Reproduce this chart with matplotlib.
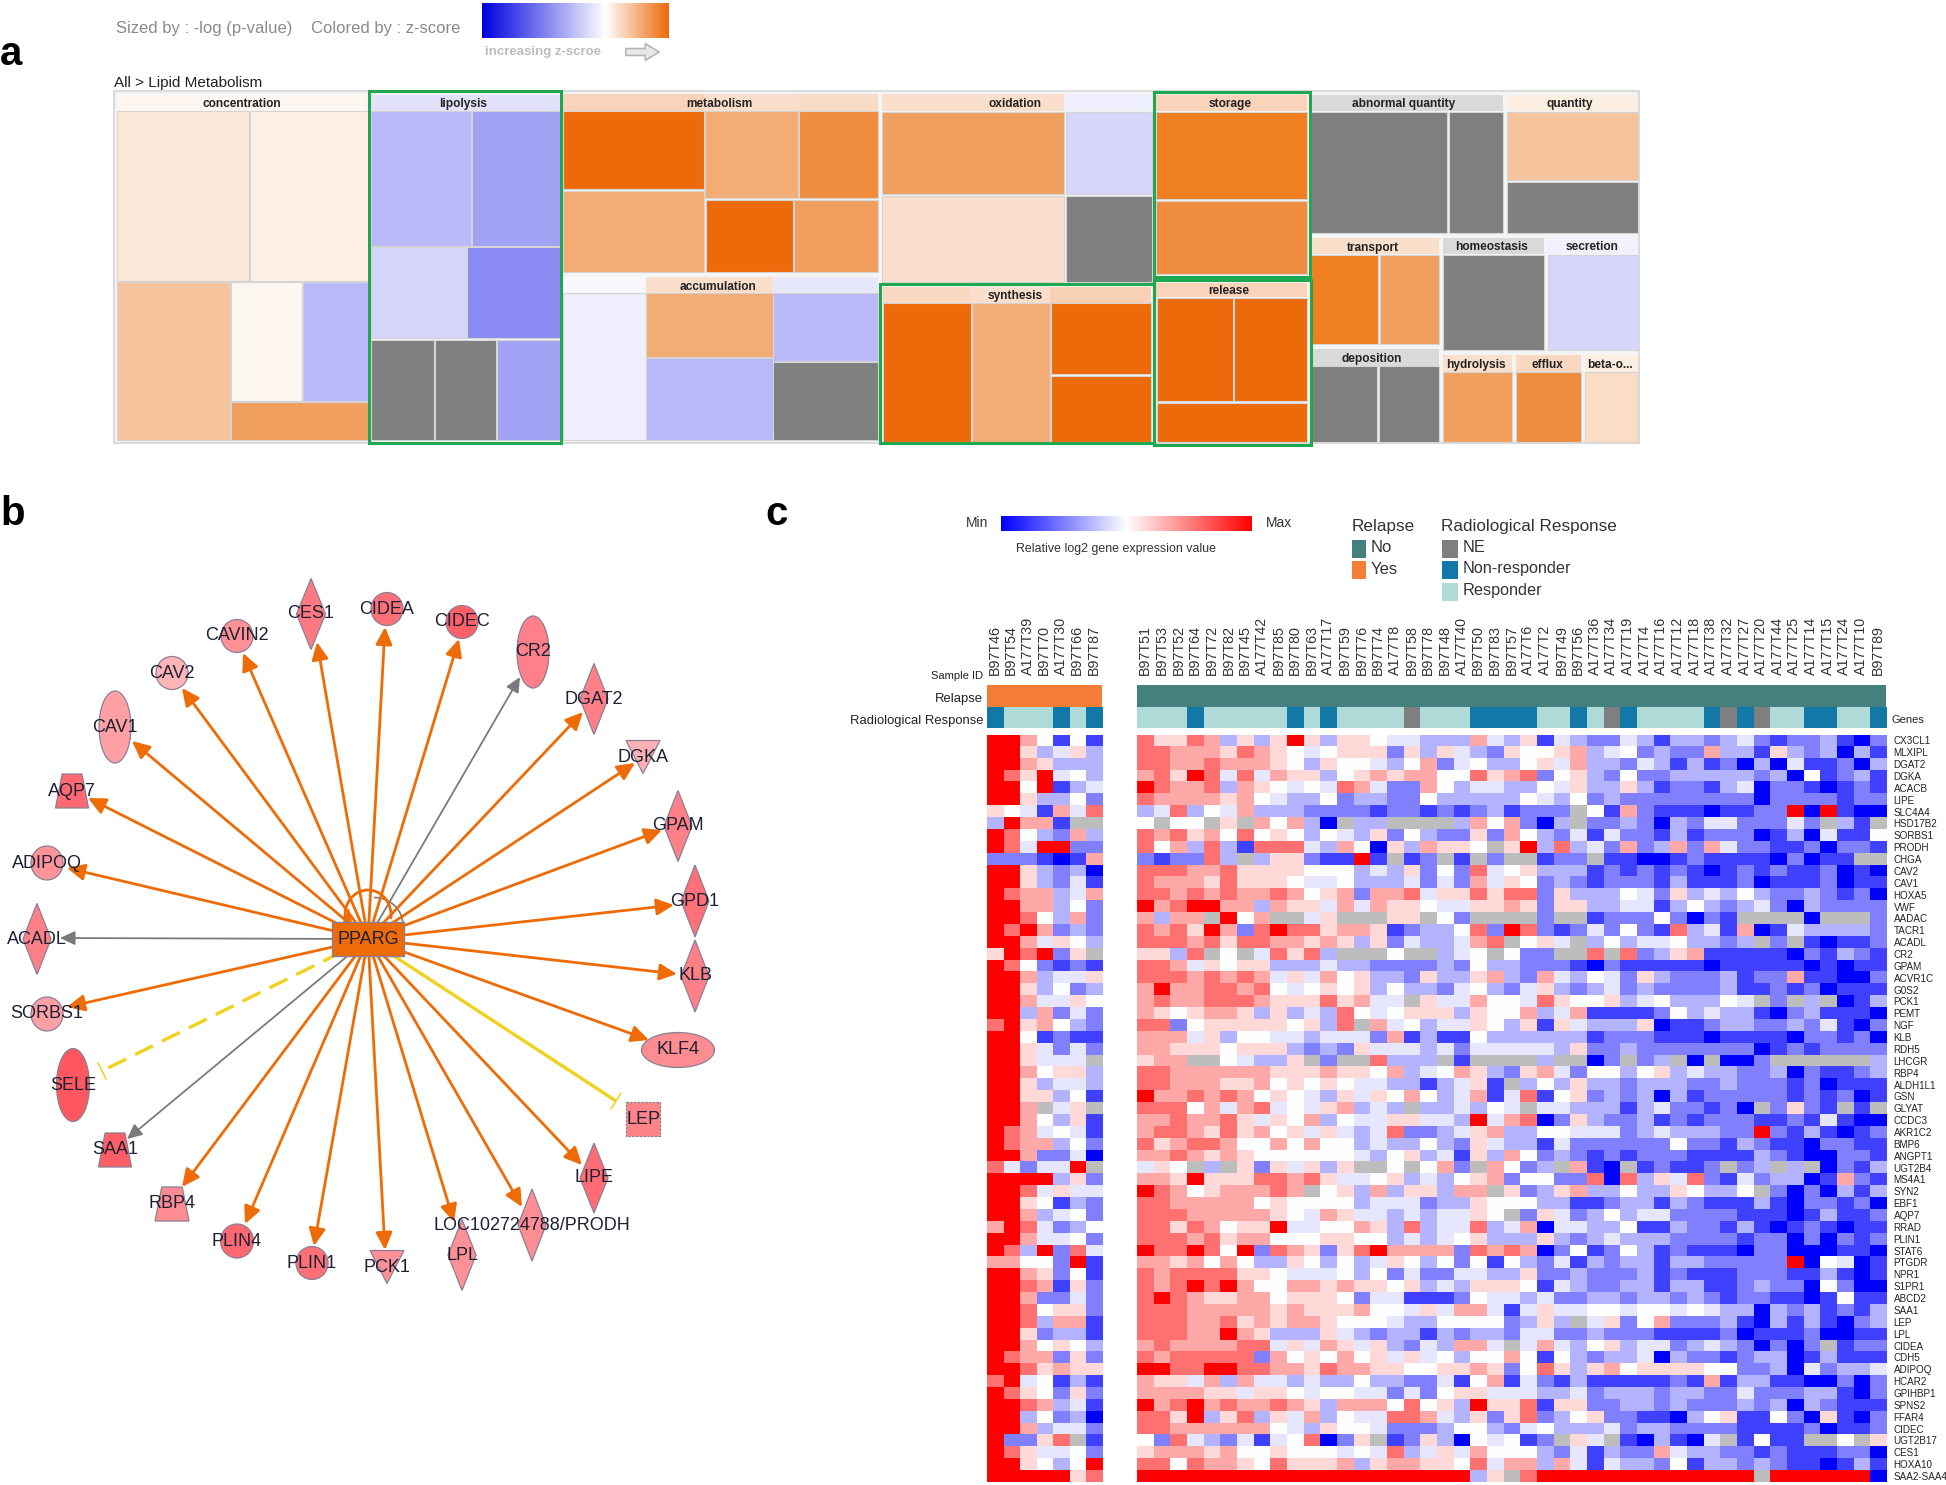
import numpy as np
import matplotlib
matplotlib.use("Agg")
import matplotlib.pyplot as plt
from matplotlib.patches import Rectangle, Ellipse, Polygon, Arc, FancyArrowPatch
from matplotlib.colors import LinearSegmentedColormap, ListedColormap

W, H = 1946, 1485
SANS = ['Liberation Sans', 'DejaVu Sans']

# ---------------------------------------------------------------- data: panel c
genes = ["CX3CL1","MLXIPL","DGAT2","DGKA","ACACB","LIPE","SLC4A4","HSD17B2","SORBS1","PRODH","CHGA","CAV2","CAV1",
         "HOXA5","VWF","AADAC","TACR1","ACADL","CR2","GPAM","ACVR1C","G0S2","PCK1","PEMT","NGF","KLB","RDH5","LHCGR",
         "RBP4","ALDH1L1","GSN","GLYAT","CCDC3","AKR1C2","BMP6","ANGPT1","UGT2B4","MS4A1","SYN2","EBF1","AQP7","RRAD",
         "PLIN1","STAT6","PTGDR","NPR1","S1PR1","ABCD2","SAA1","LEP","LPL","CIDEA","CDH5","ADIPOQ","HCAR2","GPIHBP1",
         "SPNS2","FFAR4","CIDEC","UGT2B17","CES1","HOXA10","SAA2-SAA4"]
samples_yes = ["B97T46","B97T54","A177T39","B97T70","A177T30","B97T66","B97T87"]
samples_no = ["B97T51","B97T53","B97T52","B97T64","B97T72","B97T82","B97T45","A177T42","B97T85","B97T80","B97T63",
              "A177T17","B97T59","B97T76","B97T74","A177T8","B97T58","B97T78","B97T48","A177T40","B97T50","B97T83",
              "B97T57","A177T6","A177T2","B97T49","B97T56","A177T36","A177T34","A177T19","A177T4","A177T16","A177T12",
              "A177T18","A177T38","A177T32","A177T27","A177T20","A177T44","A177T25","A177T14","A177T15","A177T24",
              "A177T10","B97T89"]
# response codes: R responder, N non-responder, E not evaluable
response_yes = "NRRRNRN"
response_no = "RRRNRRRRRNRNRRRRERRRNNNNRRNRENRRRRNENERRNNRRN"[:45]
# expression levels: 0 deep blue .. 5 white .. 9 deep red, x missing
heat_yes = ["9975151","9963463","9976333","9869453","9959134","9963352","6541748","39771xx","9853273","9849922",
            "2221017","9963230","9963241","9877347","9977352","9985372","9897232","9974653","698926x","9852121",
            "9973446","9963523","9974465","9937242","8967532","9951211","9964242","996444x","9975663","9963443",
            "9966351","997x46x","9975361","9874541","9877352","9972240","842449x","9999362","9984644","9965132",
            "9973452","7984235","9974452","9839284","7755291","9976251","9987162","9972242","9985662","9983771",
            "9962331","9975653","9877262","9986766","8945131","9865262","9987341","9935230","9973442","92268x1",
            "9864452","9965359","9999968"]
heat_no = [
 "8668736369 636654433 3743614322 4313323421 223102",
 "8877768765 456662636 4326556734 5232273316 323031",
 "8877877765 365543572 4533564733 2431312030 411203",
 "7869848476 635676775 5867825632 5223333323 051231",
 "9877837654 548742275 3443354633 6312213402 210121",
 "8777767543 352332253 3333543523 2222222202 222122",
 "3483547333 222212212 1231222x51 7211101122 909100",
 "5x55x6x757 30x33xxxx 3757203x22 3203244222 42x31x",
 "8786758565 354362532 2627532414 2213122201 304115",
 "8573831888 437506376 65x6938342 7237274221 120221",
 "212283x366 21191x12x 1x2xx122x1 1001211110 2011xx",
 "8887786666 555343625 2845633312 1212101212 112010",
 "8777686665 445333424 2746523212 2213111201 112011",
 "8878787787 567277846 6868826333 5426343532 232120",
 "9789977376 647476654 4667626633 4413532342 032222",
 "7377x957xx 46xxx66x5 2xxxx2xx12 2252021xxx x0xxx2",
 "8786972898 867761233 5829821242 5218341701 433332",
 "8887868877 676362433 478x564x35 34453323x2 x10112",
 "6638x5x486 83xxx5xx3 45x522xx8x 8236711111 021321",
 "8874656633 343322223 2533222102 1111101111 101011",
 "8887878746 475633263 3673274354 2632223122 711002",
 "7977887854 565635332 4532463234 2322223112 120111",
 "7877888766 686744x64 4755486556 34533354x2 x3x013",
 "7656776363 438545666 3655734711 1125343310 231110",
 "8825666665 638x74534 4653616433 3601123322 324102",
 "7774635544 344427131 1533333312 2211101111 022120",
 "7766656663 232644434 2444443622 3222222201 212222",
 "677xx54336 x2xx8333x 1xxxx3xx02 x23x0x002x xxxxx3",
 "8877777766 676657345 7632674255 3563433223 021123",
 "8877766756 565443313 461x353633 2333223222 120111",
 "9778787565 436465753 4714815623 2303122222 121201",
 "8885747845 467343x33 4354x44333 13422120x2 621x1x",
 "7787786465 735446644 3947802632 2312122211 214100",
 "7887686756 464348223 4673355444 2343332292 131012",
 "8678875575 755343353 2643314222 2225221321 102211",
 "7787676555 555435634 1637523212 1222111132 100221",
 "465x3x6264 636xx5x57 2x7523x710 x12112x23x 3x0213",
 "7769666887 864456343 5672552280 8364821423 301721",
 "9875677787 x56373663 77x6236733 53365335x2 020313",
 "8877777565 555344423 3655533112 3313211131 022120",
 "8887777765 476443434 465x264235 3442222111 013112",
 "8868756694 455763834 4834704433 5113221310 121011",
 "8887867755 566553434 5633363234 3332222122 020212",
 "9889859287 626897777 2878702512 5312111022 000110",
 "7767575336 535346535 2515324132 3313322222 905401",
 "8788886654 445352422 4433622322 2312111222 113101",
 "8789897557 767665634 3666514322 3313311232 205200",
 "8987667756 665244111 2544342233 2332321221 101511",
 "8887777767 666755464 7741464455 4554543303 231213",
 "8887786767 765554335 5552363x46 2572223103 131023",
 "8887797633 364323313 2332442232 2211112011 120011",
 "7877778846 476463243 774x474356 3442343202 02x122",
 "8788888275 657564645 3557515323 3403221233 013111",
 "9988998877 687766556 6762586367 5666655223 042334",
 "7664737443 433533224 1571421311 1112171331 100202",
 "7777664665 455442425 6644433423 3323322422 233102",
 "9789787787 637775856 3966816622 3323222323 032111",
 "8869368364 735448874 3626823562 2110356115 206102",
 "8877777754 365542223 5532453334 2332222111 120112",
 "5284324145 8026x1263 054512x64x 103104x151 1xx5x6",
 "6777675565 554548346 4755532413 2274332212 111220",
 "8858776586 667367766 5847737414 3325133232 110131",
 "9999999999 999999999 936x899999 99999999x9 999990",
]
level_values = [-1, -.75, -.5, -.29, -.1, 0, .15, .34, .56, 1]

# ---------------------------------------------------------------- data: panel b
# gene, shape, colour
genes_net = [
 ("CAV1","ell","#FFA0A4"),("CAV2","ell","#FFB4B6"),("CAVIN2","ell","#FF9296"),("CES1","dia","#FF7A80"),
 ("CIDEA","ell","#FF7076"),("CIDEC","ell","#FF6068"),("CR2","ell","#FF8088"),("DGAT2","dia","#FF8086"),
 ("DGKA","tri","#FFB0B4"),("GPAM","dia","#FF8086"),("GPD1","dia","#FF7078"),("KLB","dia","#FF8086"),
 ("KLF4","ell","#FF8C90"),("AQP7","tra","#FF6A72"),("ADIPOQ","ell","#FF9498"),("ACADL","dia","#FF8086"),
 ("SORBS1","ell","#FFA0A4"),("SELE","ell","#FF5860"),("SAA1","tra","#FF5E66"),("RBP4","tra","#FF8C90"),
 ("PLIN4","ell","#FF6870"),("PLIN1","ell","#FF7078"),("PCK1","tri","#FF9098"),("LPL","dia","#FF9096"),
 ("LOC102724788/PRODH","dia","#FF8E94"),("LIPE","dia","#FF6C74"),("LEP","sqr","#FF8488"),
]
# layout in pixels: gene -> centre x, y, width, height, tip x, tip y, edge kind
net_layout = {
 "CAV1":(115,727,32,72,132,741,"o"),"CAV2":(172,673,32,33,182,688,"o"),"CAVIN2":(237,636,32,33,243,653,"o"),
 "CES1":(311,614,29,71,317,642,"o"),"CIDEA":(387,609,32,33,385,627,"o"),"CIDEC":(462,622,32,33,459,639,"o"),
 "CR2":(533,652,32,72,520,677,"g"),"DGAT2":(594,699,28,71,583,712,"o"),"DGKA":(643,757,34,33,635,763,"o"),
 "GPAM":(678,826,28,71,662,830,"o"),"GPD1":(695,901,28,72,674,905,"o"),"KLB":(695,976,28,72,677,974,"o"),
 "KLF4":(678,1050,73,35,649,1040,"o"),"AQP7":(72,791,33,34,88,798,"o"),"ADIPOQ":(47,863,32,34,67,868,"o"),
 "ACADL":(37,939,28,71,60,938,"g"),"SORBS1":(47,1014,32,34,67,1007,"o"),"SELE":(73,1085,33,73,102,1071,"d"),
 "SAA1":(115,1150,33,34,127,1139,"g"),"RBP4":(172,1204,34,34,182,1187,"o"),"PLIN4":(237,1241,33,34,245,1224,"o"),
 "PLIN1":(312,1263,32,33,314,1246,"o"),"PCK1":(387,1267,34,33,385,1250,"o"),"LPL":(462,1255,28,71,454,1222,"o"),
 "LOC102724788/PRODH":(532,1225,28,72,522,1207,"o"),"LIPE":(594,1178,28,70,582,1165,"o"),
 "LEP":(643,1119,34,34,616,1101,"s"),
}

# ---------------------------------------------------------------- data: panel a
DK="#ED6A0A"; O1="#F07F22"; O2="#EF8C3E"; O3="#F19F5E"; O4="#F3AC74"; O5="#F6C49C"; O6="#FAE0CC"; O7="#FDEEE2"; O8="#FEF6F0"
B1="#8A8AF2"; B2="#A2A2F5"; B3="#B9B9F8"; B4="#D6D6FB"; B5="#EEEEFD"; GY="#7F7F7F"
tree_headers = [
 ("concentration",117,94,369,111,O8,None),
 ("lipolysis",371,95,560,111,"#E2E2FB",None),
 ("metabolism",563,94,704,111,"#F9D3BA",None),("",704,94,799,111,O6,None),("",799,94,878,111,"#F9DCC6",None),
 ("",563,277,646,293,"#F8F8FE",None),("accumulation",646,277,773,293,O6,None),("",773,277,878,293,"#E8E8FC",None),
 ("",882,94,1064,111,O6,None),("",1064,94,1152,111,"#EFEFFD",None),
 ("",883,287,971,303,"#F9D8C2",None),("",971,287,1050,303,O6,None),("",1050,287,1151,303,"#F8D0B4",None),
 ("storage",1156,95,1307,111,"#F9D3BA",None),("release",1156,283,1307,297,"#F9D3BA",None),
 ("abnormal quantity",1311,95,1503,111,"#D9D9D9",None),("quantity",1507,95,1638,111,O7,None),
 ("transport",1311,238,1439,254,"#FADFCB",None),("homeostasis",1443,238,1544,254,"#D9D9D9",None),
 ("secretion",1548,238,1638,254,"#F1F1FD",None),("deposition",1312,349,1439,366,"#D9D9D9",None),
 ("hydrolysis",1443,355,1512,372,O6,None),("efflux",1516,355,1581,372,"#FAD8C2",None),
 ("beta-o...",1585,355,1638,372,O7,None),
]
tree_label_x = {"concentration":242,"lipolysis":463,"metabolism":719,"accumulation":718,"storage":1230,"release":1229,
                "abnormal quantity":1404,"quantity":1570,"transport":1373,"homeostasis":1492,"secretion":1592,
                "deposition":1372,"hydrolysis":1476,"efflux":1547,"beta-o...":1610}
tree_extra_labels = [("oxidation",1015,104),("synthesis",1015,296)]
tree_cells = [
 (117,111,249,281,"#FAE7D8"),(250,111,369,281,"#FDEFE5"),(117,282,230,440,O5),(231,282,302,401,O8),
 (303,282,369,401,B3),(231,402,369,440,O3),
 (371,111,471,246,B3),(472,111,560,246,B2),(371,247,466,338,B4),(467,247,560,338,B1),
 (371,340,434,440,GY),(435,340,496,440,GY),(497,340,560,440,B2),
 (563,111,704,189,DK),(563,191,704,272,O4),(705,111,798,198,O4),(799,111,878,198,O2),
 (706,200,793,272,DK),(794,200,878,272,O3),
 (563,293,646,440,B5),(646,293,773,357,O4),(646,358,773,440,B3),(773,293,878,361,B3),(773,362,878,440,GY),
 (882,112,1064,194,O3),(882,196,1064,282,"#F9DFCB"),(1066,112,1152,194,B4),(1066,196,1152,282,GY),
 (883,303,971,442,DK),(972,303,1050,442,O4),(1051,303,1151,374,DK),(1051,376,1151,442,DK),
 (1156,112,1307,199,O1),(1156,201,1307,274,O2),
 (1157,298,1233,401,DK),(1234,298,1307,401,DK),(1157,403,1307,442,DK),
 (1311,112,1447,233,GY),(1449,112,1503,233,GY),(1507,112,1638,180,O5),(1507,182,1638,233,GY),
 (1311,255,1378,344,O1),(1380,255,1439,344,O3),(1443,255,1544,350,GY),(1548,255,1638,350,B4),
 (1312,366,1377,442,GY),(1379,366,1439,442,GY),(1443,372,1512,442,O3),(1516,372,1581,442,O2),(1585,372,1638,442,"#FBDCC4"),
]
green_frames = [(369,91,561,443),(880,284,1154,443),(1154,92,1310,277),(1154,280,1311,445)]

# ---------------------------------------------------------------- figure
fig = plt.figure(figsize=(W/100, H/100), dpi=100, facecolor="white")
ax = fig.add_axes([0, 0, 1, 1])
ax.set_xlim(0, W); ax.set_ylim(H, 0); ax.axis("off")

def sub_axes(x0, y0, x1, y1):
    a = fig.add_axes([x0/W, 1-y1/H, (x1-x0)/W, (y1-y0)/H])
    return a

for s, x, y in [("a", 0, 54), ("b", 0, 514), ("c", 765, 514)]:
    ax.text(x, y, s, fontsize=29, fontweight="bold", family=SANS, va="center", ha="left", color="black")

# ---------- panel a
ax.text(116, 28, "Sized by : -log (p-value)", fontsize=12, family=SANS, color="#8a8a8a", va="center")
ax.text(311, 28, "Colored by : z-score", fontsize=12, family=SANS, color="#8a8a8a", va="center")
cb = sub_axes(482, 3, 669, 38)
cb.imshow(np.linspace(0, 1, 256)[None, :], aspect="auto",
          cmap=LinearSegmentedColormap.from_list("z", [(0, "#0000E0"), (.66, "#FFFFFF"), (1, "#ED6A0A")]))
cb.axis("off")
ax.text(485, 52, "increasing z-scroe", fontsize=9.5, family=SANS, fontweight="bold", color="#bdbdbd", va="center")
ax.add_patch(FancyArrowPatch((623, 52), (662, 52), arrowstyle="simple,head_width=12,head_length=10,tail_width=5",
                             mutation_scale=1, fc="#e8e8e8", ec="#b5b5b5", lw=1.2))
ax.text(114, 83, "All > Lipid Metabolism", fontsize=11, family=SANS, color="#222222", va="center")

ax.add_patch(Rectangle((114, 91), 1525, 352, fc="#f4f4f4", ec="#dcdcdc", lw=1.5))
for name, x0, y0, x1, y1, c, _ in tree_headers:
    ax.add_patch(Rectangle((x0, y0), x1-x0, y1-y0, fc=c, ec="none"))
    if name:
        cx = tree_label_x.get(name, (x0+x1)/2)
        ax.text(cx, (y0+y1)/2+1.5, name, fontsize=8.6, fontweight="bold", family=SANS, ha="center", va="center", color="#222222")
for name, x, y in tree_extra_labels:
    ax.text(x, y, name, fontsize=8.6, fontweight="bold", family=SANS, ha="center", va="center", color="#222222")
for x0, y0, x1, y1, c in tree_cells:
    ax.add_patch(Rectangle((x0, y0), x1-x0, y1-y0, fc=c, ec="#d4d4d4", lw=0.8))
for x0, y0, x1, y1 in green_frames:
    ax.add_patch(Rectangle((x0, y0), x1-x0, y1-y0, fc="none", ec="#1FA84F", lw=2.2, zorder=5))

# ---------- panel b
CX, CY = 368, 939
edge_colors = {"o": "#EE6C07", "g": "#7A7A7A", "d": "#F0D21E", "s": "#F0D21E"}

def node_shape(shape, cx, cy, w, h, c):
    kw = dict(fc=c, ec="#8a7f95", lw=0.9, zorder=4)
    if shape == "ell":
        return Ellipse((cx, cy), w, h, **kw)
    if shape == "dia":
        return Polygon([(cx, cy-h/2), (cx+w/2, cy), (cx, cy+h/2), (cx-w/2, cy)], **kw)
    if shape == "tri":
        return Polygon([(cx-w/2, cy-h/2), (cx+w/2, cy-h/2), (cx, cy+h/2)], **kw)
    if shape == "tra":
        return Polygon([(cx-w*.3, cy-h/2), (cx+w*.3, cy-h/2), (cx+w/2, cy+h/2), (cx-w/2, cy+h/2)], **kw)
    kw.update(ls=(0, (2, 1)))
    return Rectangle((cx-w/2, cy-h/2), w, h, **kw)

for name, shape, col in genes_net:
    cx, cy, w, h, tx, ty, kind = net_layout[name]
    c = edge_colors[kind]
    if kind in "og":
        lw = 2.0 if kind == "o" else 1.3
        style = "-|>,head_length=1.05,head_width=0.5" if kind == "o" else "-|>,head_length=0.9,head_width=0.42"
        ax.add_patch(FancyArrowPatch((CX, CY), (tx, ty), arrowstyle=style, mutation_scale=10, color=c, lw=lw,
                                     shrinkA=0, shrinkB=0, zorder=3))
    else:
        ax.plot([CX, tx], [CY, ty], color=c, lw=2.4, ls=(0, (6, 3)) if kind == "d" else "-", zorder=3, solid_capstyle="butt")
        d = np.array([tx-CX, ty-CY], float); d /= np.hypot(*d); n = np.array([-d[1], d[0]])
        ax.plot([tx+n[0]*9, tx-n[0]*9], [ty+n[1]*9, ty-n[1]*9], color=c, lw=1.1, zorder=3)
    ax.add_patch(node_shape(shape, cx, cy, w, h, col))
    ax.text(cx, cy, name, fontsize=13, family=SANS, ha="center", va="center", color="#1c2033", zorder=6)

ax.add_patch(Arc((CX, 915), 46, 50, theta1=170, theta2=370, color="#EE6C07", lw=2.0, zorder=3))
ax.add_patch(Arc((CX+6, 925), 58, 55, theta1=270, theta2=360, color="#7A7A7A", lw=1.2, zorder=2))
ax.add_patch(Polygon([(343, 922), (352, 922), (349, 908)], fc="#EE6C07", ec="none", zorder=3))
ax.add_patch(Rectangle((332, 922), 72, 34, fc="#EE6C07", ec="#8a7f95", lw=1, zorder=5))
ax.text(CX, CY, "PPARG", fontsize=13, family=SANS, ha="center", va="center", color="#1c2033", zorder=6)

# ---------- panel c
cmap = LinearSegmentedColormap.from_list("h", ["#0000FF", "#FFFFFF", "#FF0000"]).copy()
cmap.set_bad("#BDBDBD")

def decode(rows):
    out = []
    for r in rows:
        r = r.replace(" ", "")
        out.append([np.nan if ch == "x" else level_values[int(ch)] for ch in r])
    return np.array(out, dtype=float)

M_yes, M_no = decode(heat_yes), decode(heat_no)
assert M_yes.shape == (63, 7) and M_no.shape == (63, 45), (M_yes.shape, M_no.shape)

Y0, Y1 = 734.5, 1482
XL0, XL1, XR0, XR1 = 986.5, 1102, 1137, 1886
resp_cmap = ListedColormap(["#AEDAD8", "#1278A8", "#7F7F7F"])
resp_code = {"R": 0, "N": 1, "E": 2}

for (x0, x1, M, samples, resp, relapse_col, right) in [
        (XL0, XL1, M_yes, samples_yes, response_yes, "#F47D35", False),
        (XR0, XR1, M_no, samples_no, response_no, "#43807E", True)]:
    a = sub_axes(x0, Y0, x1, Y1)
    a.imshow(M, cmap=cmap, vmin=-1, vmax=1, aspect="auto", interpolation="nearest")
    a.set_xticks([]); a.tick_params(length=0)
    for s in a.spines.values():
        s.set_visible(False)
    if right:
        a.yaxis.tick_right()
        a.set_yticks(range(len(genes)))
        a.set_yticklabels(genes, fontsize=7.1, family=SANS, color="#222222")
        a.tick_params(axis="y", pad=5.5, length=0)
    else:
        a.set_yticks([])
    r = sub_axes(x0, 685, x1, 707)
    r.add_patch(Rectangle((0, 0), 1, 1, transform=r.transAxes, fc=relapse_col, ec="none")); r.axis("off")
    q = sub_axes(x0, 707, x1, 728)
    q.imshow(np.array([[resp_code[c] for c in resp]]), cmap=resp_cmap, vmin=0, vmax=2, aspect="auto", interpolation="nearest")
    q.set_yticks([]); q.xaxis.tick_top()
    q.set_xticks(range(len(samples)))
    q.set_xticklabels(samples, rotation=90, fontsize=10.3, family=SANS, color="#333333", ha="center", va="bottom")
    q.tick_params(axis="x", length=0, pad=23)
    for s in q.spines.values():
        s.set_visible(False)

for txt, y, fs in [("Sample ID", 676, 8), ("Relapse", 699, 9.4), ("Radiological Response", 721, 9.4)]:
    ax.text(983, y, txt, fontsize=fs, family=SANS, ha="right", va="center", color="#222222")
ax.text(1891, 720, "Genes", fontsize=8, family=SANS, va="center", color="#222222")

cb2 = sub_axes(1001, 516, 1252, 531)
cb2.imshow(np.linspace(-1, 1, 256)[None, :], aspect="auto", cmap=cmap, vmin=-1, vmax=1); cb2.axis("off")
ax.text(988, 523, "Min", fontsize=10, family=SANS, ha="right", va="center", color="#333333")
ax.text(1266, 523, "Max", fontsize=10, family=SANS, ha="left", va="center", color="#333333")
ax.text(1116, 549, "Relative log2 gene expression value", fontsize=8.9, family=SANS, ha="center", va="center", color="#333333")

ax.text(1352, 526, "Relapse", fontsize=12.3, family=SANS, va="center", color="#333333")
ax.text(1441, 526, "Radiological Response", fontsize=12.3, family=SANS, va="center", color="#333333")
for label, col, x, y in [("No", "#43807E", 1352, 540), ("Yes", "#F47D35", 1352, 561)]:
    ax.add_patch(Rectangle((x, y), 14, 18, fc=col, ec="none"))
    ax.text(x+19, y+8, label, fontsize=12, family=SANS, va="center", color="#333333")
for label, col, x, y in [("NE", "#7F7F7F", 1442, 540), ("Non-responder", "#1278A8", 1442, 561), ("Responder", "#AEDAD8", 1442, 583)]:
    ax.add_patch(Rectangle((x, y), 16, 18, fc=col, ec="none"))
    ax.text(x+21, y+8, label, fontsize=11.7, family=SANS, va="center", color="#333333")

fig.savefig("out.png", dpi=100, facecolor="white")
